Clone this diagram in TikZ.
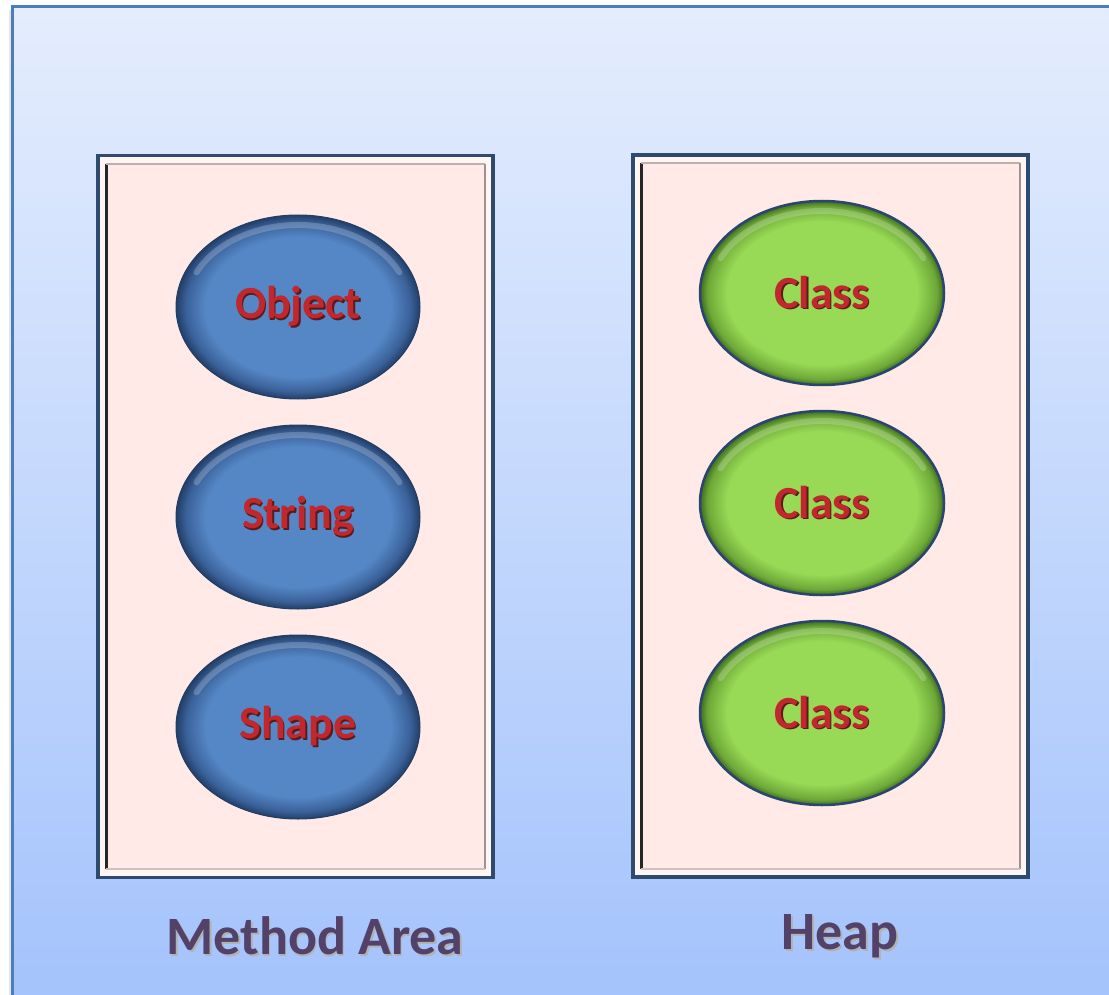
\documentclass[tikz,border=0pt]{standalone}
\usepackage{fontspec}
\setmainfont{Carlito}
\usetikzlibrary{shapes.geometric}

\definecolor{bgtop}{HTML}{E4EDFD}
\definecolor{bgbot}{HTML}{A4C3FC}
\definecolor{frameblue}{HTML}{4A7EBB}
\definecolor{boxband}{HTML}{FFF6F4}
\definecolor{boxfill}{HTML}{FFEAE7}
\definecolor{boxedge}{HTML}{2E4A6C}
\definecolor{bluein}{HTML}{5587C6}
\definecolor{bluerim}{HTML}{3A6199}
\definecolor{bluedark}{HTML}{223E66}
\definecolor{greenin}{HTML}{98D955}
\definecolor{greenrim}{HTML}{6DA838}
\definecolor{greendark}{HTML}{3F6A22}
\definecolor{ovaledge}{HTML}{2A4670}
\definecolor{labelred}{HTML}{C0282E}
\definecolor{labelshade}{HTML}{5A1A1A}
\definecolor{captioncol}{HTML}{52426A}

\pgfdeclareradialshading{bluebevel}{\pgfpoint{0bp}{0bp}}{%
  color(0bp)=(bluein); color(19bp)=(bluein); color(23bp)=(bluerim);
  color(25bp)=(bluedark); color(50bp)=(bluedark)}
\pgfdeclareradialshading{greenbevel}{\pgfpoint{0bp}{0bp}}{%
  color(0bp)=(greenin); color(19.5bp)=(greenin); color(23.5bp)=(greenrim);
  color(25bp)=(greendark); color(50bp)=(greendark)}

\newcommand\shadowtxt[2]{\rlap{\kern1.6pt\raisebox{-1.6pt}{\color{#1}#2}}#2}

\tikzset{
  areabox/.style={rectangle, minimum width=395pt, minimum height=722pt,
    draw=boxedge, line width=3.2pt, fill=boxband, inner sep=0pt},
  oval/.style={ellipse, minimum width=244pt, minimum height=184pt, inner sep=0pt,
    text=labelred, font=\fontsize{46}{50}\selectfont\bfseries},
  blueoval/.style={oval, shading=bluebevel, draw=bluedark, line width=1pt},
  greenoval/.style={oval, shading=greenbevel, draw=ovaledge, line width=2.5pt},
  caption/.style={text=captioncol, font=\fontsize{54}{58}\selectfont\bfseries, inner sep=0pt},
  innerframe/.style={line width=2.2pt},
  highlight/.style={white, opacity=0.2, line width=6pt, line cap=round},
}

\begin{document}
\begin{tikzpicture}[x=1pt,y=1pt]
  \useasboundingbox (0,0) rectangle (1109,-995);
  \clip (0,0) rectangle (1109,-995);

  % page and slide background
  \fill[white] (0,0) rectangle (1109,-995);
  \fill[black!10] (9,-10) rectangle (12,-995);
  \shade[top color=bgtop, bottom color=bgbot] (12,-7) rectangle (1115,-1000);
  \draw[frameblue, line width=3pt] (12,-1000) -- (12,-7) -- (1115,-7);

  % the two memory areas
  \node[areabox] (methodbox) at (295.5,-516.5) {};
  \node[areabox] (heapbox) at (830.5,-516) {};

  \foreach \b in {methodbox,heapbox}{
    \fill[boxfill] ([shift={(10,-10)}]\b.north west) rectangle ([shift={(-10,10)}]\b.south east);
    \draw[innerframe, color=black!85] ([shift={(10,10)}]\b.south west) -- ([shift={(10,-10)}]\b.north west);
    \draw[innerframe, color=black!25!boxfill] ([shift={(10,-10)}]\b.north west) -- ([shift={(-10,-10)}]\b.north east);
    \draw[innerframe, color=black!38!boxfill] ([shift={(-10,-10)}]\b.north east) -- ([shift={(-10,10)}]\b.south east);
    \draw[innerframe, color=black!18!boxfill] ([shift={(-10,10)}]\b.south east) -- ([shift={(10,10)}]\b.south west);
  }

  % classes held in the method area
  \node[blueoval] (object) at (298,-307) {\shadowtxt{labelshade}{Object}};
  \node[blueoval] (string) at (298,-517) {\shadowtxt{labelshade}{String}};
  \node[blueoval] (shape)  at (298,-727) {\shadowtxt{labelshade}{Shape}};

  % objects on the heap
  \node[greenoval] (classa) at (822,-293) {\shadowtxt{labelshade}{Class}};
  \node[greenoval] (classb) at (822,-503) {\shadowtxt{labelshade}{Class}};
  \node[greenoval] (classc) at (822,-713) {\shadowtxt{labelshade}{Class}};

  % soft highlight along the upper rim of each oval
  \foreach \o in {object,string,shape,classa,classb,classc}{
    \draw[highlight] ([shift={(155:112 and 82)}]\o.center)
      arc[start angle=155, end angle=25, x radius=112, y radius=82];
  }

  % captions
  \node[caption] (methodlabel) at (315,-937) {\shadowtxt{black!30}{Method Area}};
  \node[caption] (heaplabel) at (840,-937) {\shadowtxt{black!30}{Heap}};
\end{tikzpicture}
\end{document}
